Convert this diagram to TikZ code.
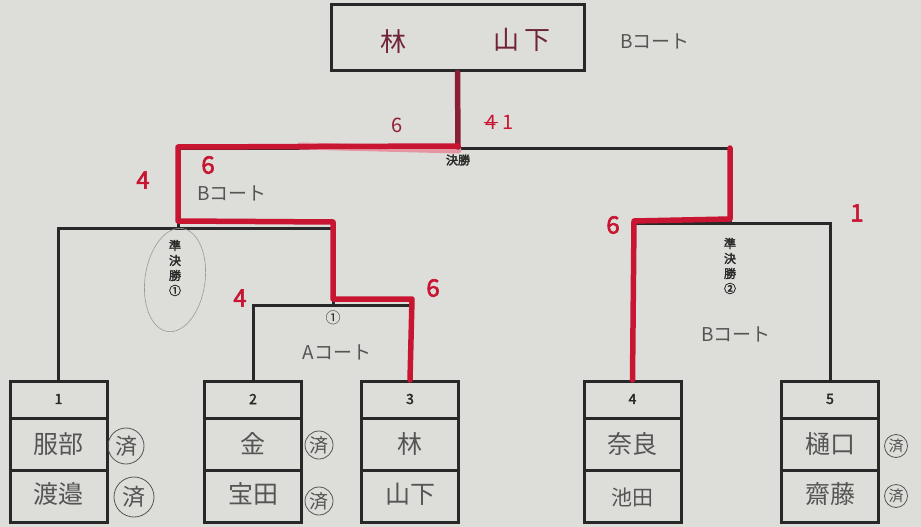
\documentclass[tikz,border=0pt]{standalone}
\usepackage{fontspec}
\setmainfont{Noto Sans CJK JP}
\newfontfamily\jp[AutoFakeBold=2.5]{Noto Sans CJK JP}
\usetikzlibrary{calc}
\definecolor{paper}{RGB}{221,221,217}
\definecolor{myred}{RGB}{200,22,50}
\definecolor{maroon}{RGB}{110,35,55}
\definecolor{pencil}{RGB}{85,85,85}
\definecolor{ink}{RGB}{40,40,40}
\tikzset{
  blk/.style={line width=3pt, draw=ink},
  redln/.style={line width=5.5pt, draw=myred, line cap=round, line join=round},
  pbox/.style={draw=ink, line width=3pt, minimum width=97pt, minimum height=141pt, inner sep=0pt},
  hdr/.style={font=\jp\bfseries\fontsize{14}{16}\selectfont, text=ink},
  nm/.style={font=\jp\fontsize{25}{28}\selectfont, text=pencil},
  hw/.style={font=\jp\fontsize{19}{22}\selectfont, text=pencil},
  rnum/.style={font=\jp\bfseries\fontsize{24}{26}\selectfont, text=myred},
  tnum/.style={font=\jp\fontsize{20}{22}\selectfont, text=myred},
  lbl/.style={font=\jp\bfseries\fontsize{12}{13}\selectfont, text=ink, inner sep=0pt},
  sumi/.style={circle, draw=pencil, line width=0.8pt, inner sep=0pt, minimum size=28pt, font=\jp\fontsize{19}{20}\selectfont, text=pencil}
}
\begin{document}
\begin{tikzpicture}[x=1pt,y=-1pt]
\fill[paper] (0,0) rectangle (921,527);
\useasboundingbox (0,0) rectangle (921,527);

% top box
\node[draw=ink, line width=3pt, minimum width=253pt, minimum height=66pt, inner sep=0pt] (top) at (457.5,38) {};
\node[font=\jp\fontsize{26}{28}\selectfont, text=maroon] (topn1) at (393,42) {林};
\node[font=\jp\fontsize{26}{28}\selectfont, text=maroon] (topn2) at (522,40) {山\,下};
\node[hw] (topc) at (655,41) {Bコート};

% coordinates
\coordinate (fm) at (458,148);
\coordinate (fl) at (178,148);
\coordinate (fr) at (730,148);
\coordinate (s1c) at (178,228);
\coordinate (s1r) at (333,228);
\coordinate (m1) at (333,305);
\coordinate (s2c) at (730,223);

% boxes
\foreach \n/\x in {1/58.5,2/253,3/410,4/632.5,5/830}{
  \node[pbox] (b\n) at (\x,452) {};
  \draw[blk] ($(b\n.north west)+(0,38)$) -- ($(b\n.north east)+(0,38)$);
  \draw[blk] ($(b\n.north west)+(0,90)$) -- ($(b\n.north east)+(0,90)$);
  \node[hdr] (h\n) at ($(b\n.north)+(0,19)$) {\n};
}
\node[nm] (n1a) at ($(b1.north)+(0,64)$) {服部};
\node[nm] (n1b) at ($(b1.north)+(0,114)$) {渡邉};
\node[nm] (n2a) at ($(b2.north)+(0,64)$) {金};
\node[nm] (n2b) at ($(b2.north)+(0,114)$) {宝田};
\node[nm] (n3a) at ($(b3.north)+(0,64)$) {林};
\node[nm] (n3b) at ($(b3.north)+(0,114)$) {山下};
\node[nm] (n4a) at ($(b4.north)+(0,64)$) {奈良};
\node[nm, font=\jp\fontsize{21}{24}\selectfont] (n4b) at ($(b4.north)+(0,117)$) {池田};
\node[nm] (n5a) at ($(b5.north)+(0,64)$) {樋口};
\node[nm] (n5b) at ($(b5.north)+(0,114)$) {齋藤};

% done marks
\node[sumi, minimum size=36pt, font=\jp\fontsize{22}{24}\selectfont] (d1a) at (126,446) {済};
\node[sumi, minimum size=40pt, font=\jp\fontsize{23}{24}\selectfont] (d1b) at (134,497) {済};
\node[sumi] (d2a) at (319,445) {済};
\node[sumi] (d2b) at (319,501) {済};
\node[sumi, minimum size=23pt, font=\jp\fontsize{15}{16}\selectfont] (d5a) at (896,446) {済};
\node[sumi, minimum size=23pt, font=\jp\fontsize{15}{16}\selectfont] (d5b) at (896,496) {済};

% black bracket lines
\draw[blk] (top.south) -- (fm);
\draw[blk] (s1c) |- (fr) -- (s2c);
\draw[blk] (b1.north) |- (s1r) -- (m1);
\draw[blk] (b2.north) |- (m1) -| (b3.north);
\draw[blk] (b4.north) |- (s2c) -| (b5.north);

% red winner paths
\draw[line width=7pt, draw=myred!45!white, line cap=round] (458,150) -- (300,146);
\draw[redln, draw=maroon!70!myred] (top.south) -- (458,147);
\draw[redln] (458,146) -- (178,147) -- (178,221) -- (333,222) -- (333,299) -- (412,299) -- (b3.north);
\draw[redln] (fr) -- (730,219) -- (634,221) -- (b4.north);

% labels
\node[lbl] (fin) at (458,160) {決勝};
\node[lbl, align=center] (sf1) at (175,268) {準\\[2pt]決\\[2pt]勝\\[2pt]①};
\node[lbl, align=center] (sf2) at (730,266) {準\\[2pt]決\\[2pt]勝\\[2pt]②};
\draw[pencil!60, line width=0.6pt, rotate around={-8:(175,280)}] (175,280) ellipse [x radius=30, y radius=52];
\node[font=\jp\fontsize{15}{16}\selectfont, text=ink] (m1l) at (333,318) {①};
\node[hw] (ac) at (337,352) {Aコート};
\node[hw] (bc1) at (232,193) {Bコート};
\node[hw] (bc2) at (736,334) {Bコート};

% scores
\node[tnum, text=maroon!60!myred] (t6) at (397,125) {6};
\node[tnum] (t4) at (491,122) {4};
\draw[myred, line width=1pt] ($(t4.west)+(2,0)$) -- ($(t4.east)+(-2,0)$);
\node[tnum] (t1) at (508,122) {1};
\node[rnum] (sA) at (143,180) {4};
\node[rnum] (sB) at (208,165) {6};
\node[rnum] (sC) at (240,298) {4};
\node[rnum] (sD) at (433,288) {6};
\node[rnum] (sE) at (613,225) {6};
\node[rnum] (sF) at (857,213) {1};
\end{tikzpicture}
\end{document}
